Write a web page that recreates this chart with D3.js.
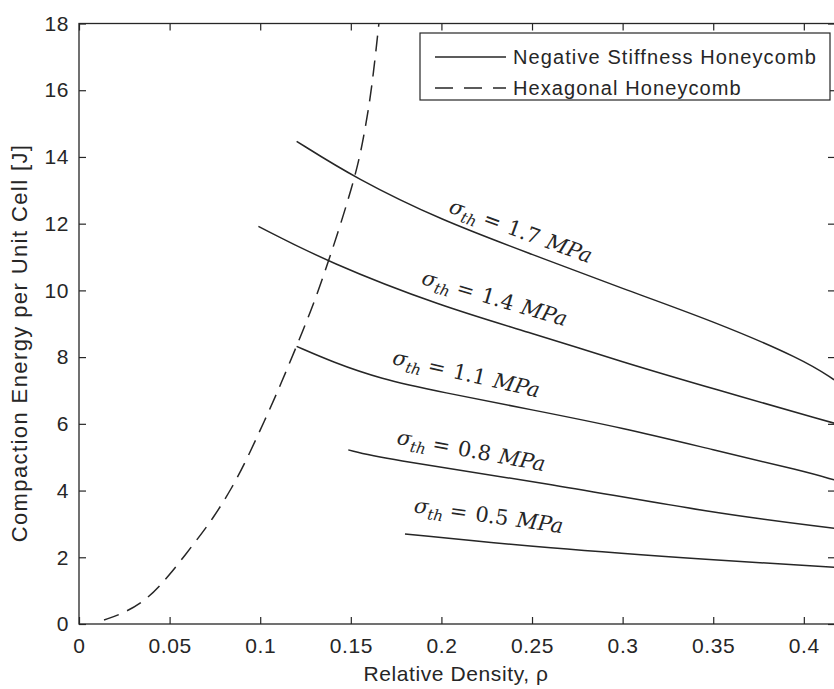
<!DOCTYPE html>
<html>
<head>
<meta charset="utf-8">
<script src="https://cdn.jsdelivr.net/npm/d3@7"></script>
<style>
  body { margin: 0; background: #fff; }
  svg { display: block; font-family: "Liberation Sans", Arial, sans-serif; }
</style>
</head>
<body>
<div id="chart"></div>
<script>
// axis ticks
const xTicks = [0, 0.05, 0.1, 0.15, 0.2, 0.25, 0.3, 0.35, 0.4];
const yTicks = [0, 2, 4, 6, 8, 10, 12, 14, 16, 18];

// hexagonal honeycomb (dashed)
const hexRho = [0.0138, 0.0245, 0.0374, 0.0493, 0.0622, 0.0741, 0.0843, 0.0925, 0.1026, 0.1109, 0.1238, 0.1336, 0.1525, 0.1575, 0.1615, 0.1655];
const hexEnergy = [0.12, 0.32, 0.72, 1.42, 2.32, 3.17, 4.07, 4.92, 6.12, 7.12, 8.82, 10.17, 13.34, 14.7, 16.0, 18.0];

// negative stiffness honeycomb, one curve per threshold stress
const stressLabels = ["1.7", "1.4", "1.1", "0.8", "0.5"];
const rho17 = [0.1201, 0.1529, 0.2, 0.25, 0.3, 0.35, 0.4, 0.4167];
const energy17 = [14.47, 13.35, 12.1, 11.08, 10.05, 9.08, 7.92, 7.32];
const rho14 = [0.099, 0.1376, 0.2, 0.25, 0.3, 0.35, 0.4167];
const energy14 = [11.92, 10.84, 9.52, 8.72, 7.85, 7.05, 6.02];
const rho11 = [0.1201, 0.14, 0.1661, 0.2, 0.25, 0.3, 0.35, 0.4, 0.4167];
const energy11 = [8.32, 7.85, 7.35, 6.95, 6.42, 5.88, 5.22, 4.58, 4.32];
const rho08 = [0.1486, 0.1661, 0.2581, 0.35, 0.4167];
const energy08 = [5.22, 4.97, 4.22, 3.32, 2.87];
const rho05 = [0.1799, 0.2581, 0.35, 0.4167];
const energy05 = [2.70, 2.27, 1.92, 1.70];

// where each curve label starts, and its tilt
const labelRho = [0.2035, 0.1885, 0.1725, 0.175, 0.1845];
const labelEnergy = [12.35, 10.2, 7.8, 5.4, 3.35];
const labelAngle = [20, 16.5, 13, 10.5, 8];

const nshRho = [rho17, rho14, rho11, rho08, rho05];
const nshEnergy = [energy17, energy14, energy11, energy08, energy05];

const width = 834, height = 689;
const margin = { top: 23.5, left: 79, bottom: 65 };
const xMax = 0.4172;

const svg = d3.select("#chart").append("svg")
  .attr("width", width)
  .attr("height", height);

const x = d3.scaleLinear().domain([0, xMax]).range([margin.left, 835]);
const y = d3.scaleLinear().domain([0, 18]).range([height - margin.bottom, margin.top]);

const ink = "#262626";

svg.append("clipPath").attr("id", "plot-clip")
  .append("rect")
  .attr("x", x(0)).attr("y", y(18))
  .attr("width", x(xMax) - x(0)).attr("height", y(0) - y(18));

// axes, MATLAB style box with inward ticks
const tickLen = 7;
svg.append("g")
  .attr("transform", `translate(0,${y(0)})`)
  .call(d3.axisBottom(x).tickValues(xTicks).tickSize(-tickLen).tickPadding(14).tickFormat(d => d))
  .call(g => g.select(".domain").remove());
svg.append("g")
  .attr("transform", `translate(0,${y(18)})`)
  .call(d3.axisTop(x).tickValues(xTicks).tickSize(-tickLen).tickFormat(""))
  .call(g => g.select(".domain").remove());
svg.append("g")
  .attr("transform", `translate(${x(0)},0)`)
  .call(d3.axisLeft(y).tickValues(yTicks).tickSize(-tickLen).tickPadding(10))
  .call(g => g.select(".domain").remove());
svg.append("g")
  .attr("transform", `translate(${x(xMax)},0)`)
  .call(d3.axisRight(y).tickValues(yTicks).tickSize(-tickLen).tickFormat(""))
  .call(g => g.select(".domain").remove());

svg.selectAll(".tick line").attr("stroke", ink).attr("stroke-width", 1.2);
svg.selectAll(".tick text")
  .attr("fill", ink)
  .style("font-size", "21px")
  .style("letter-spacing", "0.6px");

svg.append("rect")
  .attr("x", x(0)).attr("y", y(18))
  .attr("width", x(xMax) - x(0)).attr("height", y(0) - y(18))
  .attr("fill", "none").attr("stroke", ink).attr("stroke-width", 1.3);

// axis titles
svg.append("text")
  .attr("x", 456)
  .attr("y", 681)
  .attr("text-anchor", "middle")
  .attr("fill", ink)
  .style("font-size", "21px")
  .style("letter-spacing", "0.6px")
  .text("Relative Density, ρ");

svg.append("text")
  .attr("transform", `translate(27,343) rotate(-90)`)
  .attr("text-anchor", "middle")
  .attr("fill", ink)
  .style("font-size", "22px")
  .style("letter-spacing", "1.4px")
  .text("Compaction Energy per Unit Cell [J]");

// curves
const plot = svg.append("g").attr("clip-path", "url(#plot-clip)");
const line = d3.line().x(d => x(d[0])).y(d => y(d[1])).curve(d3.curveBasis);

plot.append("path")
  .datum(hexRho.map((r, i) => [r, hexEnergy[i]]))
  .attr("d", line)
  .attr("fill", "none")
  .attr("stroke", ink)
  .attr("stroke-width", 1.5)
  .attr("stroke-dasharray", "16,9");

plot.selectAll(".nsh")
  .data(nshRho.map((rs, k) => rs.map((r, i) => [r, nshEnergy[k][i]])))
  .enter()
  .append("path")
  .attr("class", "nsh")
  .attr("d", line)
  .attr("fill", "none")
  .attr("stroke", ink)
  .attr("stroke-width", 1.5);

// curve labels
const labels = svg.selectAll(".curve-label")
  .data(stressLabels)
  .enter()
  .append("text")
  .attr("class", "curve-label")
  .attr("transform", (d, i) => `translate(${x(labelRho[i])},${y(labelEnergy[i])}) rotate(${labelAngle[i]})`)
  .attr("fill", ink)
  .style("font-family", "'DejaVu Serif', serif")
  .style("font-size", "21px");

labels.append("tspan").style("font-style", "italic").text("σ");
labels.append("tspan").style("font-style", "italic").style("font-size", "15px").attr("dy", 5).text("th");
labels.append("tspan").attr("dy", -5).attr("dx", 6).text("=");
labels.append("tspan").attr("dx", 8).text(d => d);
labels.append("tspan").attr("dx", 8).style("font-style", "italic").text("MPa");

// legend
const legend = svg.append("g").attr("transform", "translate(420,33)");
legend.append("rect")
  .attr("width", 410).attr("height", 67)
  .attr("fill", "#fff").attr("stroke", ink).attr("stroke-width", 1.2);

const legendItems = [
  { label: "Negative Stiffness Honeycomb", dash: null },
  { label: "Hexagonal Honeycomb", dash: "18,11" }
];
legendItems.forEach((item, i) => {
  const cy = 24 + i * 31;
  legend.append("line")
    .attr("x1", 15).attr("x2", 86).attr("y1", cy).attr("y2", cy)
    .attr("stroke", ink).attr("stroke-width", 1.5)
    .attr("stroke-dasharray", item.dash);
  legend.append("text")
    .attr("x", 93).attr("y", cy + 7)
    .attr("fill", ink)
    .style("font-size", "20px")
    .style("letter-spacing", "1.1px")
    .text(item.label);
});
</script>
</body>
</html>
